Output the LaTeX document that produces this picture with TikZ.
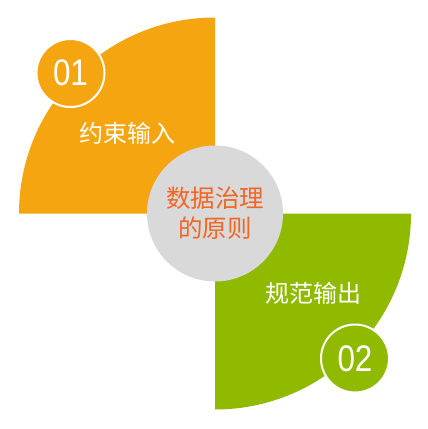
\documentclass[tikz,border=0pt]{standalone}
\usepackage{fontspec}
\newfontfamily\cjk{Noto Sans CJK SC}
\newfontfamily\numfont{Liberation Sans}
\definecolor{orangeA}{HTML}{F5A50F}
\definecolor{greenA}{HTML}{8FBA00}
\definecolor{grayA}{HTML}{D9D9D9}
\definecolor{redA}{HTML}{F26522}
\begin{document}
\begin{tikzpicture}[x=1pt,y=-1pt,
  badge/.style={circle,draw=white,line width=2pt,minimum size=68pt,inner sep=0pt},
  numtxt/.style={text=white,font=\numfont\fontsize{37}{37}\selectfont},
  sidetxt/.style={text=white,font=\cjk\fontsize{24}{24}\selectfont},
  centertxt/.style={text=redA,font=\cjk\fontsize{24.5}{30}\selectfont,align=center}]
\useasboundingbox (0,0) rectangle (428,429);
% quarter shapes
\fill[orangeA] (215,213.5) -- (19,213.5) arc[start angle=180,end angle=270,radius=196] -- cycle;
\fill[greenA] (215,213.5) -- (411,213.5) arc[start angle=0,end angle=90,radius=196] -- cycle;
% center circle
\node[circle,fill=grayA,minimum size=136pt,inner sep=0pt] (c) at (215,213.5) {};
\node[centertxt] (ct) at (215,213.5) {数据治理\\的原则};
% badges
\node[badge,fill=orangeA] (b1) at (70.5,73) {};
\node[numtxt] (n1) at (b1) {\scalebox{0.85}[1]{01}};
\node[badge,fill=greenA] (b2) at (355,358.5) {};
\node[numtxt] (n2) at (b2) {\scalebox{0.85}[1]{02}};
% labels
\node[sidetxt] (t1) at (127,133) {约束输入};
\node[sidetxt] (t2) at (313,293) {规范输出};
\end{tikzpicture}
\end{document}
